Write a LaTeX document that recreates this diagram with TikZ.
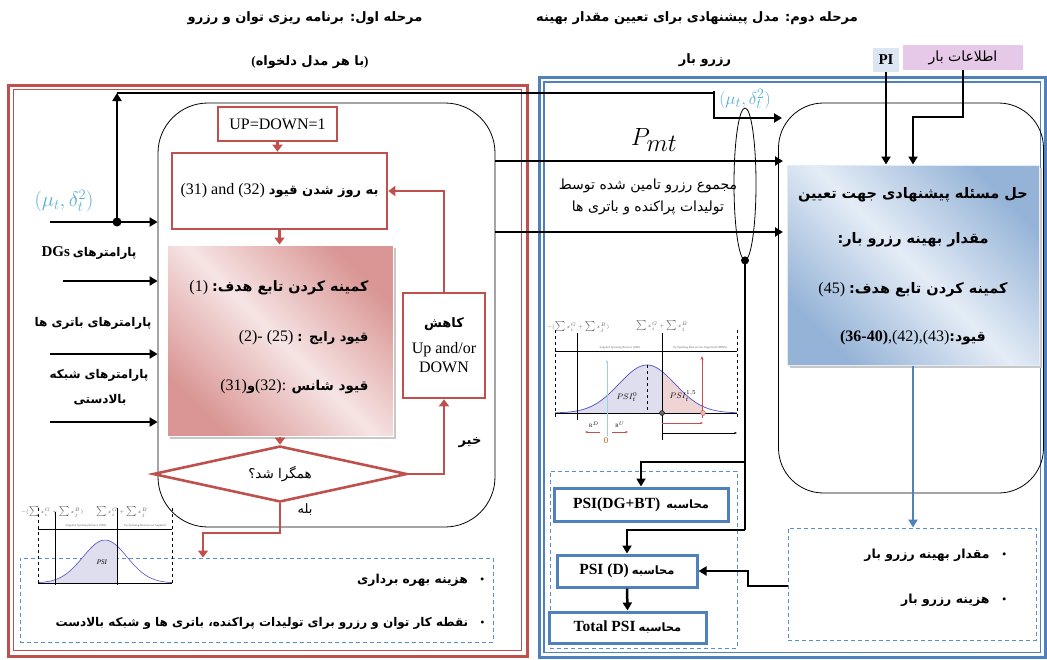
\documentclass[tikz,border=0pt]{standalone}
\usepackage{fontspec}
\setmainfont{Liberation Serif}
\newfontfamily\fa[Script=Arabic]{DejaVu Sans}
\TeXXeTstate=1
\usetikzlibrary{arrows.meta,shapes.geometric,calc}
\definecolor{rd}{RGB}{192,80,77}
\definecolor{bl}{RGB}{79,129,189}
\definecolor{dsh}{RGB}{85,142,213}
\definecolor{cy}{RGB}{85,175,215}
\definecolor{pkd}{RGB}{217,150,148}
\definecolor{pkl}{RGB}{246,228,228}
\definecolor{bld}{RGB}{149,179,215}
\definecolor{bll}{RGB}{228,236,246}
\definecolor{pifill}{RGB}{220,230,242}
\definecolor{ldfill}{RGB}{230,200,232}
\definecolor{psib}{RGB}{222,222,238}
\definecolor{psir}{RGB}{238,212,212}
\definecolor{curve}{RGB}{80,80,200}
\newcommand{\pb}[1]{{\fa\bfseries\beginR #1\endR}}
\newcommand{\pr}[1]{{\fa\beginR #1\endR}}
\newcommand{\fs}[1]{\fontsize{#1}{#1}\selectfont}
\begin{document}
\begin{tikzpicture}[x=1pt,y=-1pt, font=\fontsize{12}{14}\selectfont,
  barr/.style={line width=2.5pt, -{Triangle[length=8pt,width=9pt]}},
  bline/.style={line width=2.5pt},
  rarr/.style={draw=rd, line width=2.6pt, -{Triangle[length=7pt,width=10pt]}},
  rbox/.style={draw=rd, line width=2.6pt, fill=white, inner sep=0pt},
  bbox/.style={draw=bl, line width=3pt, fill=white, inner sep=0pt},
  dbox/.style={draw=dsh, line width=1pt, dash pattern=on 4pt off 3pt, inner sep=0pt},
  tiny/.style={font=\fontsize{3}{3}\selectfont, text=black!60, inner sep=0pt},
  tinym/.style={font=\fontsize{4}{4}\selectfont, text=black!60, inner sep=0pt}]
\useasboundingbox (0,0) rectangle (1047,659);

% ---------- headers ----------
\node (h1) at (305,18) {\fs{13}\pb{مرحله اول\kern0pt: برنامه ریزی توان و رزرو}};
\node (h2) at (310,62) {\fs{13}\textbf{(}\pb{با هر مدل دلخواه}\textbf{)}};
\node (h3) at (697,18) {\fs{13}\pb{مرحله دوم\kern0pt: مدل پیشنهادی برای تعیین مقدار بهینه}};
\node (h4) at (705,60) {\fs{13}\pb{رزرو بار}};
\node[fill=pifill, minimum width=26, minimum height=24, inner sep=0] (pi) at (886,60) {\fs{15}\textbf{PI}};
\node[fill=ldfill, minimum width=120, minimum height=25, inner sep=0] (ld) at (963,57.5) {\fs{14}\pr{اطلاعات بار}};

% ---------- panels ----------
\draw[rd, line width=3pt] (8,85) rectangle (527,656);
\draw[rd, line width=1.3pt] (13.5,89.5) rectangle (521.5,650.5);
\draw[bl, line width=3pt] (539,77) rectangle (1045.5,657.5);
\draw[bl, line width=1.3pt] (544,82) rectangle (1040.5,652.5);

% ---------- left stage ----------
\node[draw, line width=0.8pt, rounded corners=50, minimum width=337, minimum height=424, inner sep=0] (lr) at (326.5,315) {};
\node[rbox, minimum width=119, minimum height=34] (ud) at (277.5,124) {\fs{16}UP=DOWN=1};
\node[rbox, minimum width=215, minimum height=76] (upd) at (279.5,191) {\fs{16}(31) and (32) {\fs{13}\pb{به روز شدن قیود}}};
\fill[black!22] (170,248) rectangle (396,439);
\node[draw=white, line width=1pt, top color=pkd, bottom color=pkd, middle color=pkl, shading angle=-45, minimum width=226, minimum height=191, inner sep=0] (pk) at (280,340.5) {};
\node[anchor=east] (pk1) at (372,288) {\fs{16}(1) {\fs{14.3}\pb{کمینه کردن تابع هدف\kern0pt:}}};
\node[anchor=east] (pk2) at (372,338) {\fs{16}(2)- (25) {\fs{13}{\fa\bfseries :}\ \ \pb{قیود رایج}}};
\node[anchor=east] (pk3) at (372,387) {\fs{16}(31){\fs{13}\pb{و}}(32): {\fs{13.5}\pb{قیود شانس}}};
\node[diamond, draw=rd, line width=2.6pt, minimum width=254, minimum height=56, inner sep=0, aspect=4.5] (dm) at (280,474) {\fs{13.5}\pr{همگرا شد؟}};
\node[rbox, minimum width=82, minimum height=105, align=center, font=\fs{16}] (kh) at (444,345.5) {{\fs{13}\pb{کاهش}}\\[10pt] Up and/or\\[3pt] DOWN};
\node (no) at (470,443) {\fs{13}\pb{خیر}};
\node (yes) at (305,510) {\fs{13}\pr{بله}};

\draw[rarr] (ud.south) -- (ud.south |- upd.north);
\draw[rarr] (upd.south) -- (upd.south |- pk.north);
\draw[rarr] (pk.south) -- (dm.north);
\draw[rarr] (dm.east) -| (kh.south);
\draw[rarr] (kh.north) |- (upd.east);

\node[dbox, minimum width=473, minimum height=84] (ldash) at (256.5,600) {};
\coordinate (lb) at (203,533);
\draw[rarr] (dm.south) |- (lb) -- (lb |- ldash.north);
\node[anchor=east] (lb1) at (488,580) {\fs{12.3}\pb{هزینه بهره برداری}\quad\textbullet};
\node[anchor=east] (lb2) at (488,623) {\fs{12}\pb{نقطه کار توان و رزرو برای تولیدات پراکنده\kern0pt، باتری ها و شبکه بالادست}\quad\textbullet};

% inputs
\node[text=cy, font=\fs{20}] (mu1) at (64,201) {$(\mu_t,\delta_t^2)$};
\coordinate (in1) at (50,222);
\coordinate (dot) at (117,222);
\draw[barr] (in1) -- (in1 -| lr.west);
\fill (dot) circle (4.5);
\coordinate (tl) at (117,93);
\draw[barr] (dot) -- (tl);
\coordinate (tr) at (714,91);
\coordinate (te) at (782,118);
\draw[bline] (tl) -- (tl -| tr) -- (tr);
\draw[barr] (tr) |- (te);
\node (p1) at (89,253) {{\fs{15}\textbf{DGs}} \pb{پارامترهای}};
\coordinate (in2) at (63,281);
\draw[barr] (in2) -- (in2 -| lr.west);
\node (p2) at (93,323) {\pb{پارامترهای باتری ها}};
\coordinate (in3) at (50,354);
\draw[barr] (in3) -- (in3 -| lr.west);
\node (p3) at (99,375) {\pb{پارامترهای شبکه}};
\node (p4) at (100,400) {\pb{بالادستی}};
\coordinate (in4) at (50,422);
\draw[barr] (in4) -- (in4 -| lr.west);

% left chart
\begin{scope}[line width=0.4pt]
\fill[psib] (38,583) -- plot[domain=38:117,samples=40] (\x,{583-43*exp(-0.5*((\x-105)/22)^2)}) -- (117,583) -- cycle;
\draw[curve, line width=0.6pt] plot[domain=38:172,samples=60] (\x,{583-43*exp(-0.5*((\x-105)/22)^2)});
\draw[dashed] (38,508) -- (38,585);
\draw[dashed] (172,508) -- (172,585);
\draw (55,512) -- (55,585);
\draw (117,508) -- (117,585);
\draw (38,529) -- (172,529);
\draw (38,583) -- (172,583);
\node[font=\fontsize{7}{8}\selectfont\itshape] (psiL) at (102,562) {PSI};
\node[tiny] at (86,526) {Supplied Spinning Reserve (SSR)};
\node[tiny] at (145,526) {Up Spinning Reserve not Supplied};
\node[tinym] at (52,512) {$-(\sum x_i^G+\sum x_j^B)$};
\node[tinym] at (122,512) {$\sum x_i^G+\sum x_j^B$};
\end{scope}

% ---------- middle ----------
\coordinate (o1) at (495,161);
\coordinate (e1) at (783,161);
\coordinate (o2) at (495,232);
\coordinate (e2) at (783,232);
\draw[barr] (o1) -- (e1);
\draw[barr] (o2) -- (e2);
\node (pmt) at (654,140) {\fs{33}$P_{mt}$};
\node[align=center, font=\fontsize{14}{22}\selectfont] (sumt) at (648,197) {\pr{مجموع رزرو تامین شده توسط}\\ \pr{تولیدات پراکنده و باتری ها}};
\node[text=cy, font=\fs{19}] (mu2) at (745,99) {$(\mu_t,\delta_t^2)$};
\node[draw, ellipse, line width=0.8pt, minimum width=22, minimum height=152, inner sep=0] (el) at (745,184) {};
\fill (el.south) circle (4);

% middle chart
\begin{scope}[line width=0.4pt]
\fill[psib] (557,413) -- plot[domain=557:662,samples=40] (\x,{413-48*exp(-0.5*((\x-647)/28)^2)}) -- (662,413) -- cycle;
\fill[psir] (662,413) -- plot[domain=662:703,samples=20] (\x,{413-48*exp(-0.5*((\x-647)/28)^2)}) -- (703,413) -- cycle;
\draw[curve, line width=0.7pt] plot[domain=555:737,samples=70] (\x,{413-48*exp(-0.5*((\x-647)/28)^2)});
\draw[dashed] (555,330) -- (555,418);
\draw[dashed] (737,330) -- (737,418);
\draw (577,333) -- (577,420);
\draw (662,333) -- (662,440);
\draw (555,351) -- (737,351);
\draw (555,413) -- (737,413);
\draw[dashed] (647,365) -- (647,413);
\draw[cy!60, -{Stealth[length=3pt]}] (607,436) -- (607,360);
\draw[rd, line width=0.7pt, -{Stealth[length=4pt]}] (702,418) -- (702,356);
\draw[fill=black!60] (662,413) circle (2.5);
\draw[rd, fill=rd!40] (703,413) circle (2.5);
\draw[rd, -{Stealth[length=3pt]}] (662,423) -- (703,423);
\draw[-{Stealth[length=3pt]}] (662,433) -- (737,433);
\draw[rd, -{Stealth[length=3pt]}] (600,432) -- (585,432);
\draw[rd, -{Stealth[length=3pt]}] (612,432) -- (628,432);
\node[font=\fontsize{5}{6}\selectfont] at (594,425) {R$^D$};
\node[font=\fontsize{5}{6}\selectfont] at (620,425) {R$^U$};
\node[text=orange!80!black, font=\fontsize{9}{10}\selectfont] at (606,441) {0};
\node[font=\fontsize{8}{9}\selectfont] at (627,397) {$PSI_t^0$};
\node[font=\fontsize{8}{9}\selectfont] at (683,396) {$PSI_t^{1,5}$};
\node[tiny] at (620,348) {Supplied Spinning Reserve (SSR)};
\node[tiny] at (700,348) {Up Spinning Reserve not Supplied (USRNS)};
\node[tinym] at (578,327) {$-(\sum x_i^G+\sum x_j^B)$};
\node[tinym] at (662,326) {$\sum x_i^G+\sum x_j^B$};
\end{scope}

\node[dbox, minimum width=187, minimum height=177] (cdash) at (643.5,559.5) {};
\node[bbox, minimum width=174, minimum height=33] (psi1) at (641,504.5) {{\fs{15.5}\textbf{PSI(DG+BT)}}\ \ {\fs{11.5}\pb{محاسبه}}};
\node[bbox, minimum width=140, minimum height=32] (psi2) at (627,571) {{\fs{15.5}\textbf{PSI (D)}} {\fs{11.5}\pb{محاسبه}}};
\node[bbox, minimum width=157, minimum height=31] (psi3) at (627.5,627.5) {{\fs{15.5}\textbf{Total PSI}} {\fs{11.5}\pb{محاسبه}}};
\coordinate (j1) at (745,462);
\coordinate (j2) at (745,530);
\draw[bline] (el.south) -- (j2);
\draw[barr] (j1) -| (psi1.north);
\draw[barr] (j2) -| (psi2.north);
\draw[barr] (psi2.south) -- (psi3.north);

% ---------- right stage ----------
\node[draw, line width=0.8pt, rounded corners=45, minimum width=265, minimum height=390, inner sep=0] (rr) at (911,298) {};
\fill[black!22] (790,168) rectangle (1042,368);
\node[draw=bll, line width=1pt, top color=bld, bottom color=bld, middle color=bll, shading angle=-45, minimum width=252, minimum height=200, inner sep=0] (bb) at (913,265) {};
\node (b1) at (913,195) {\fs{14.5}\pb{حل مسئله پیشنهادی جهت تعیین}};
\node (b2) at (913,240) {\fs{14.5}\pb{مقدار بهینه رزرو بار\kern0pt:}};
\node (b3) at (913,290) {\fs{16}(45) {\fs{14.5}\pb{کمینه کردن تابع هدف\kern0pt:}}};
\node (b4) at (913,338) {\fs{16}\textbf{(36-40)},(42),(43){\fs{14}\pb{قیود\kern0pt:}}};
\draw[barr] (pi.south) -- (pi.south |- bb.north);
\coordinate (lk) at (913,117);
\draw[barr] (ld.south) |- (lk) -- (lk |- bb.north);
\node[dbox, minimum width=248, minimum height=112] (rdash) at (912,584) {};
\draw[bl, line width=2.4pt, -{Triangle[length=8pt,width=9pt]}] (bb.south) -- (bb.south |- rdash.north);
\node[anchor=east] (rb1) at (1010,555) {\fs{12.5}\pb{مقدار بهینه رزرو بار}\quad\textbullet};
\node[anchor=east] (rb2) at (1010,600) {\fs{12.5}\pb{هزینه رزرو بار}\quad\textbullet};
\coordinate (rk) at (788,586);
\coordinate (rm) at (748,586);
\draw[barr] (rk) -- (rm) |- (psi2.east);
\end{tikzpicture}
\end{document}
